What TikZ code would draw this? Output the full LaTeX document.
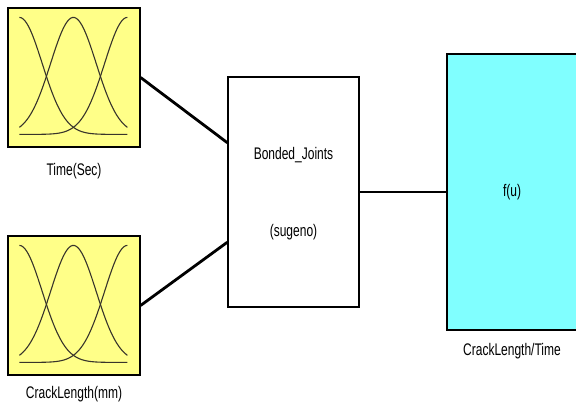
\documentclass[tikz,border=0pt]{standalone}
\usepackage{fontspec}
\setmainfont{Liberation Sans}
\usetikzlibrary{positioning,calc}
\definecolor{mfyellow}{RGB}{255,255,136}
\definecolor{outcyan}{RGB}{128,255,255}
\tikzset{
  blk/.style={draw,line width=1.2pt,inner sep=0pt,minimum width=132pt,minimum height=139pt},
  lbl/.style={inner sep=0pt,font=\fontsize{12}{14}\selectfont,yscale=1.4,transform shape},
  wire/.style={line width=2.8pt},
  mf/.style={line width=1.1pt,black!80!olive}
}
\newcommand{\gaussmfs}[1]{%
  \begin{scope}[shift={(#1.north west)}]
    \foreach \m in {12,66,120}
      \draw[mf] plot[domain=12:120,samples=60,smooth] (\x,{127-117*exp(-((\x-\m)^2)/1040)});
  \end{scope}}

\begin{document}
\begin{tikzpicture}[x=1pt,y=-1pt]
  \clip (0,0) rectangle (576,406);
  \node[blk,fill=mfyellow] (time) at (74,77.5) {};
  \node[blk,fill=mfyellow] (crack) at (74,305.5) {};
  \node[blk,minimum width=131pt,minimum height=230pt] (fis) at (293.5,192) {};
  \node[blk,fill=outcyan,minimum width=130pt,minimum height=276pt] (out) at (512,192) {};
  \gaussmfs{time}
  \gaussmfs{crack}
  \node[lbl,below=15pt of time] (timelbl) {Time(Sec)};
  \node[lbl,below=10pt of crack] (cracklbl) {CrackLength(mm)};
  \node[lbl,above=29pt of fis.center] (fisname) {Bonded\_Joints};
  \node[lbl,below=32pt of fis.center] (fistype) {(sugeno)};
  \node[lbl] (fu) at (out.center) {f(u)};
  \node[lbl,below=12pt of out] (outlbl) {CrackLength/Time};
  \draw[wire] (time.east) -- ($(fis.north west)!0.287!(fis.south west)$);
  \draw[wire] (crack.east) -- ($(fis.north west)!0.717!(fis.south west)$);
  \draw[wire] (fis.east) -- (out.west);
\end{tikzpicture}
\end{document}
